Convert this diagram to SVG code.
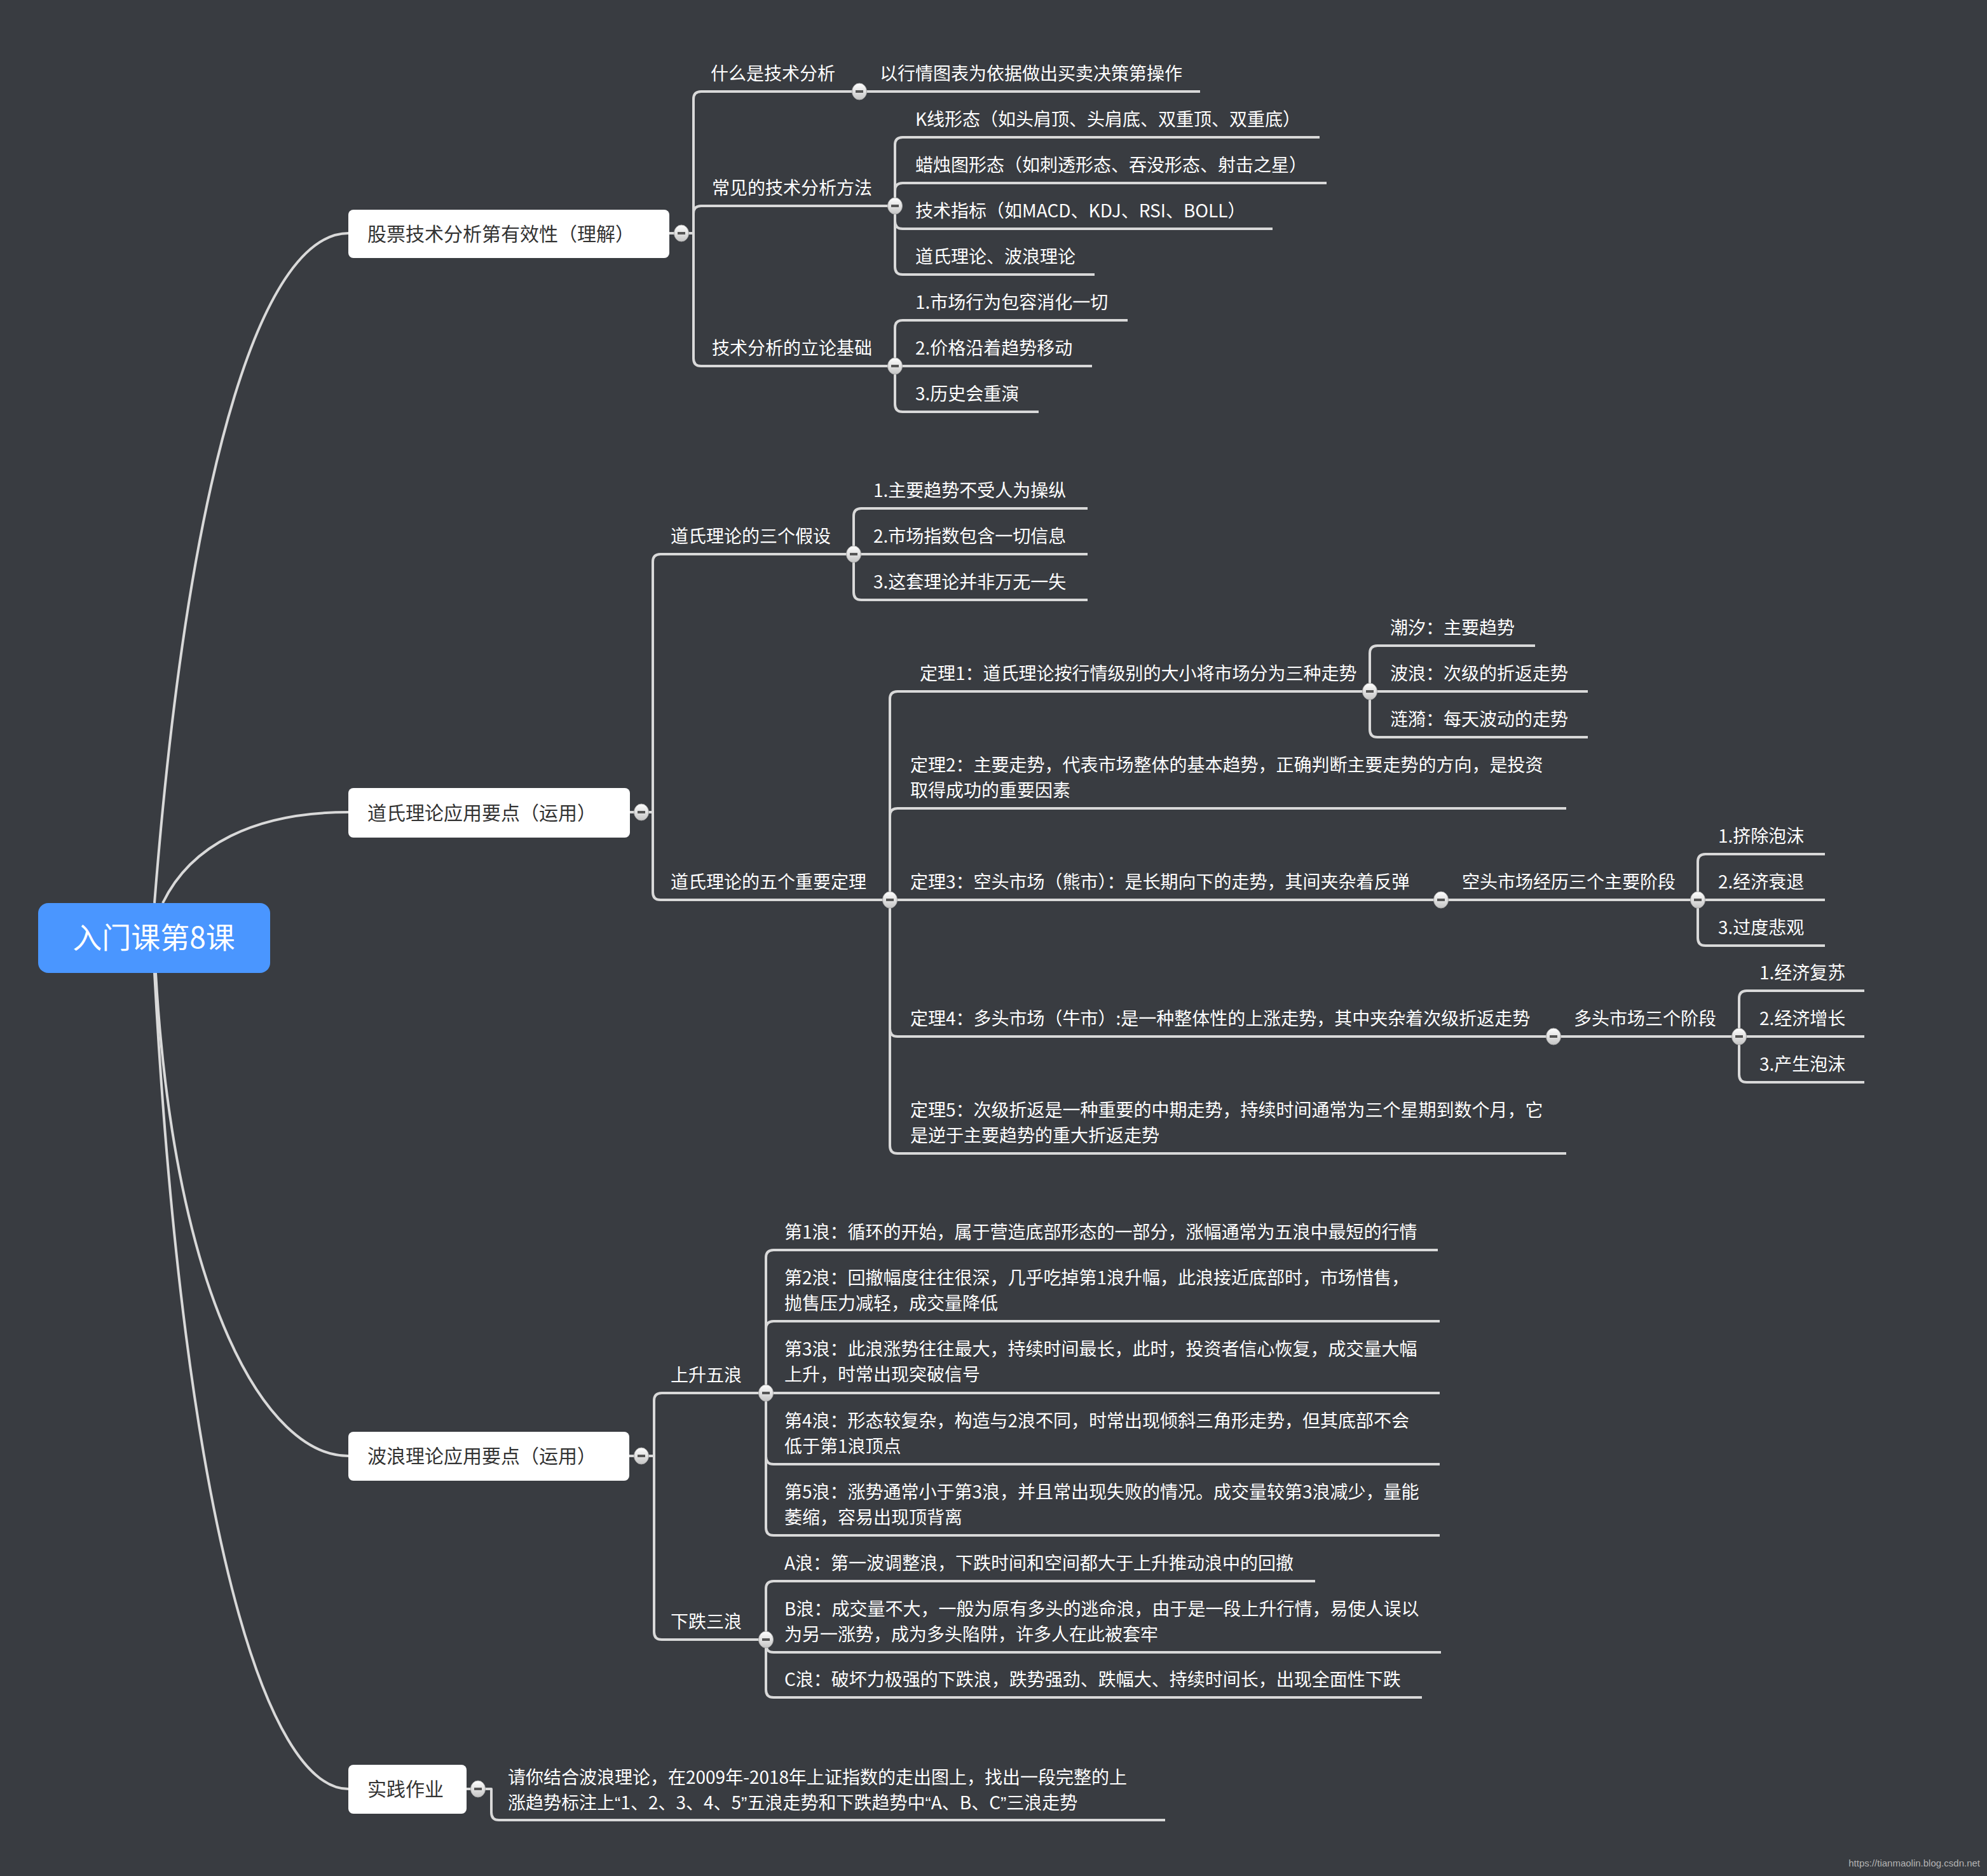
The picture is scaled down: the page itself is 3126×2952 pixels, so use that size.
<svg xmlns="http://www.w3.org/2000/svg" xmlns:xlink="http://www.w3.org/1999/xlink" width="3126" height="2952" viewBox="0 0 3126 2952">
<style>
.link{fill:none;stroke:#d9d9d9;stroke-width:4;stroke-linecap:butt;stroke-linejoin:round}
.root{fill:none;stroke:#d9d9d9;stroke-width:4}
text{font-family:"Noto Sans CJK SC","Noto Sans",sans-serif}
.sub{font-size:28px;fill:#ffffff}
.l1{font-size:30px;fill:#333333}
.l1box{fill:#ffffff}
.cen{font-size:46px;fill:#ffffff}
.q{font-family:"Liberation Sans",Arial,sans-serif}
.wm{font-family:"Liberation Sans",Arial,sans-serif;font-size:15px;fill:#b4b4b4}
</style>
<defs>
<linearGradient id="cg" x1="0" y1="0" x2="0" y2="1">
<stop offset="0" stop-color="#ffffff"/>
<stop offset="1" stop-color="#c4c4c4"/>
</linearGradient>
<g id="cb">
<ellipse cx="0" cy="0" rx="11.5" ry="13" fill="url(#cg)" stroke="#a8a8a8" stroke-width="1"/>
<rect x="-6" y="-2" width="12" height="4" fill="#555555"/>
</g>
</defs>
<rect width="3126" height="2952" fill="#393c41"/>

<g id="connectors">
<path class="root" d="M243 1421 C300 700 420 367 548 367"/>
<path class="root" d="M256 1421 C300 1330 400 1278 548 1278"/>
<path class="root" d="M245 1531 C275 2048 420 2291 548 2291"/>
<path class="root" d="M243 1531 C290 2404 420 2815 548 2815"/>

<path class="link" d="M1053 367 H1091"/>
<path class="link" d="M1091 367 V156 Q1091 144 1103 144 H1352"/>
<path class="link" d="M1091 367 V336 Q1091 324 1103 324 H1408"/>
<path class="link" d="M1091 367 V564 Q1091 576 1103 576 H1408"/>
<path class="link" d="M1352 144 H1888"/>
<path class="link" d="M1408 324 V228 Q1408 216 1420 216 H2076"/>
<path class="link" d="M1408 324 V300 Q1408 288 1420 288 H2087"/>
<path class="link" d="M1408 324 V348 Q1408 360 1420 360 H2002"/>
<path class="link" d="M1408 324 V420 Q1408 432 1420 432 H1722"/>
<path class="link" d="M1408 576 V516 Q1408 504 1420 504 H1774"/>
<path class="link" d="M1408 576 H1718"/>
<path class="link" d="M1408 576 V636 Q1408 648 1420 648 H1634"/>

<path class="link" d="M991 1278 H1027"/>
<path class="link" d="M1027 1278 V884 Q1027 872 1039 872 H1343"/>
<path class="link" d="M1027 1278 V1404 Q1027 1416 1039 1416 H1400"/>
<path class="link" d="M1343 872 V812 Q1343 800 1355 800 H1711"/>
<path class="link" d="M1343 872 H1711"/>
<path class="link" d="M1343 872 V932 Q1343 944 1355 944 H1711"/>
<path class="link" d="M1400 1416 V1100 Q1400 1088 1412 1088 H2155"/>
<path class="link" d="M1400 1416 V1284 Q1400 1272 1412 1272 H2464"/>
<path class="link" d="M1400 1416 H2267"/>
<path class="link" d="M1400 1416 V1619 Q1400 1631 1412 1631 H2444"/>
<path class="link" d="M1400 1416 V1803 Q1400 1815 1412 1815 H2464"/>
<path class="link" d="M2155 1088 V1028 Q2155 1016 2167 1016 H2415"/>
<path class="link" d="M2155 1088 H2498"/>
<path class="link" d="M2155 1088 V1148 Q2155 1160 2167 1160 H2498"/>
<path class="link" d="M2267 1416 H2671"/>
<path class="link" d="M2671 1416 V1356 Q2671 1344 2683 1344 H2871"/>
<path class="link" d="M2671 1416 H2871"/>
<path class="link" d="M2671 1416 V1476 Q2671 1488 2683 1488 H2871"/>
<path class="link" d="M2444 1631 H2736"/>
<path class="link" d="M2736 1631 V1571 Q2736 1559 2748 1559 H2933"/>
<path class="link" d="M2736 1631 H2933"/>
<path class="link" d="M2736 1631 V1691 Q2736 1703 2748 1703 H2933"/>

<path class="link" d="M990 2291 H1029"/>
<path class="link" d="M1029 2291 V2204 Q1029 2192 1041 2192 H1205"/>
<path class="link" d="M1029 2291 V2568 Q1029 2580 1041 2580 H1205"/>
<path class="link" d="M1205 2192 V1979 Q1205 1967 1217 1967 H2262"/>
<path class="link" d="M1205 2192 V2091 Q1205 2079 1217 2079 H2265"/>
<path class="link" d="M1205 2192 H2265"/>
<path class="link" d="M1205 2192 V2292 Q1205 2304 1217 2304 H2265"/>
<path class="link" d="M1205 2192 V2404 Q1205 2416 1217 2416 H2265"/>
<path class="link" d="M1205 2580 V2500 Q1205 2488 1217 2488 H2069"/>
<path class="link" d="M1205 2580 V2588 Q1205 2600 1217 2600 H2267"/>
<path class="link" d="M1205 2580 V2659 Q1205 2671 1217 2671 H2237"/>

<path class="link" d="M734 2815 H773 V2852 Q773 2864 785 2864 H1833"/>
</g>

<g id="root">
<rect x="60" y="1421" width="365" height="110" rx="16" fill="#4a96ff"/>
<text class="cen" x="242" y="1492" text-anchor="middle">入门课第8课</text>
</g>

<g id="n1">
<rect class="l1box" x="548" y="330" width="505" height="76" rx="8"/>
<text class="l1" x="578" y="379">股票技术分析第有效性（理解）</text>
</g>
<g id="n1-1"><text class="sub" x="1118" y="126">什么是技术分析</text></g>
<g id="n1-1-1"><text class="sub" x="1384" y="126">以行情图表为依据做出买卖决策第操作</text></g>
<g id="n1-2"><text class="sub" x="1120" y="306">常见的技术分析方法</text></g>
<g id="n1-2-1"><text class="sub" x="1440" y="198">K线形态（如头肩顶、头肩底、双重顶、双重底）</text></g>
<g id="n1-2-2"><text class="sub" x="1440" y="270">蜡烛图形态（如刺透形态、吞没形态、射击之星）</text></g>
<g id="n1-2-3"><text class="sub" x="1440" y="342">技术指标（如MACD、KDJ、RSI、BOLL）</text></g>
<g id="n1-2-4"><text class="sub" x="1440" y="414">道氏理论、波浪理论</text></g>
<g id="n1-3"><text class="sub" x="1120" y="558">技术分析的立论基础</text></g>
<g id="n1-3-1"><text class="sub" x="1440" y="486">1.市场行为包容消化一切</text></g>
<g id="n1-3-2"><text class="sub" x="1440" y="558">2.价格沿着趋势移动</text></g>
<g id="n1-3-3"><text class="sub" x="1440" y="630">3.历史会重演</text></g>

<g id="n2">
<rect class="l1box" x="548" y="1240" width="443" height="78" rx="8"/>
<text class="l1" x="578" y="1290">道氏理论应用要点（运用）</text>
</g>
<g id="n2-1"><text class="sub" x="1055" y="854">道氏理论的三个假设</text></g>
<g id="n2-1-1"><text class="sub" x="1374" y="782">1.主要趋势不受人为操纵</text></g>
<g id="n2-1-2"><text class="sub" x="1374" y="854">2.市场指数包含一切信息</text></g>
<g id="n2-1-3"><text class="sub" x="1374" y="926">3.这套理论并非万无一失</text></g>
<g id="n2-2"><text class="sub" x="1055" y="1398">道氏理论的五个重要定理</text></g>
<g id="n2-2-1"><text class="sub" x="1447" y="1070">定理1：道氏理论按行情级别的大小将市场分为三种走势</text></g>
<g id="n2-2-1-1"><text class="sub" x="2187" y="998">潮汐：主要趋势</text></g>
<g id="n2-2-1-2"><text class="sub" x="2187" y="1070">波浪：次级的折返走势</text></g>
<g id="n2-2-1-3"><text class="sub" x="2187" y="1142">涟漪：每天波动的走势</text></g>
<g id="n2-2-2"><text class="sub" x="1432" y="1214">定理2：主要走势，代表市场整体的基本趋势，正确判断主要走势的方向，是投资</text><text class="sub" x="1432" y="1254">取得成功的重要因素</text></g>
<g id="n2-2-3"><text class="sub" x="1432" y="1398">定理3：空头市场（熊市）：是长期向下的走势，其间夹杂着反弹</text></g>
<g id="n2-2-3-1"><text class="sub" x="2300" y="1398">空头市场经历三个主要阶段</text></g>
<g id="n2-2-3-1-1"><text class="sub" x="2703" y="1326">1.挤除泡沫</text></g>
<g id="n2-2-3-1-2"><text class="sub" x="2703" y="1398">2.经济衰退</text></g>
<g id="n2-2-3-1-3"><text class="sub" x="2703" y="1470">3.过度悲观</text></g>
<g id="n2-2-4"><text class="sub" x="1432" y="1613">定理4：多头市场（牛市）:是一种整体性的上涨走势，其中夹杂着次级折返走势</text></g>
<g id="n2-2-4-1"><text class="sub" x="2476" y="1613">多头市场三个阶段</text></g>
<g id="n2-2-4-1-1"><text class="sub" x="2768" y="1541">1.经济复苏</text></g>
<g id="n2-2-4-1-2"><text class="sub" x="2768" y="1613">2.经济增长</text></g>
<g id="n2-2-4-1-3"><text class="sub" x="2768" y="1685">3.产生泡沫</text></g>
<g id="n2-2-5"><text class="sub" x="1432" y="1757">定理5：次级折返是一种重要的中期走势，持续时间通常为三个星期到数个月，它</text><text class="sub" x="1432" y="1797">是逆于主要趋势的重大折返走势</text></g>

<g id="n3">
<rect class="l1box" x="548" y="2253" width="442" height="77" rx="8"/>
<text class="l1" x="578" y="2302">波浪理论应用要点（运用）</text>
</g>
<g id="n3-1"><text class="sub" x="1055" y="2174">上升五浪</text></g>
<g id="n3-1-1"><text class="sub" x="1234" y="1949">第1浪：循环的开始，属于营造底部形态的一部分，涨幅通常为五浪中最短的行情</text></g>
<g id="n3-1-2"><text class="sub" x="1234" y="2021">第2浪：回撤幅度往往很深，几乎吃掉第1浪升幅，此浪接近底部时，市场惜售，</text><text class="sub" x="1234" y="2061">抛售压力减轻，成交量降低</text></g>
<g id="n3-1-3"><text class="sub" x="1234" y="2133">第3浪：此浪涨势往往最大，持续时间最长，此时，投资者信心恢复，成交量大幅</text><text class="sub" x="1234" y="2173">上升，时常出现突破信号</text></g>
<g id="n3-1-4"><text class="sub" x="1234" y="2246">第4浪：形态较复杂，构造与2浪不同，时常出现倾斜三角形走势，但其底部不会</text><text class="sub" x="1234" y="2286">低于第1浪顶点</text></g>
<g id="n3-1-5"><text class="sub" x="1234" y="2358">第5浪：涨势通常小于第3浪，并且常出现失败的情况。成交量较第3浪减少，量能</text><text class="sub" x="1234" y="2398">萎缩，容易出现顶背离</text></g>
<g id="n3-2"><text class="sub" x="1055" y="2562">下跌三浪</text></g>
<g id="n3-2-1"><text class="sub" x="1234" y="2470">A浪：第一波调整浪，下跌时间和空间都大于上升推动浪中的回撤</text></g>
<g id="n3-2-2"><text class="sub" x="1234" y="2542">B浪：成交量不大，一般为原有多头的逃命浪，由于是一段上升行情，易使人误以</text><text class="sub" x="1234" y="2582">为另一涨势，成为多头陷阱，许多人在此被套牢</text></g>
<g id="n3-2-3"><text class="sub" x="1234" y="2653">C浪：破坏力极强的下跌浪，跌势强劲、跌幅大、持续时间长，出现全面性下跌</text></g>

<g id="n4">
<rect class="l1box" x="548" y="2777" width="186" height="77" rx="8"/>
<text class="l1" x="578" y="2826">实践作业</text>
</g>
<g id="n4-1"><text class="sub" x="799" y="2807">请你结合波浪理论，在2009年-2018年上证指数的走出图上，找出一段完整的上</text><text class="sub" x="799" y="2847">涨趋势标注上<tspan class="q">“</tspan>1、2、3、4、5<tspan class="q">”</tspan>五浪走势和下跌趋势中<tspan class="q">“</tspan>A、B、C<tspan class="q">”</tspan>三浪走势</text></g>

<g id="collapse">
<use xlink:href="#cb" x="1072" y="367"/>
<use xlink:href="#cb" x="1352" y="144"/>
<use xlink:href="#cb" x="1408" y="324"/>
<use xlink:href="#cb" x="1408" y="576"/>
<use xlink:href="#cb" x="1009" y="1278"/>
<use xlink:href="#cb" x="1343" y="872"/>
<use xlink:href="#cb" x="1400" y="1416"/>
<use xlink:href="#cb" x="2155" y="1088"/>
<use xlink:href="#cb" x="2267" y="1416"/>
<use xlink:href="#cb" x="2671" y="1416"/>
<use xlink:href="#cb" x="2444" y="1631"/>
<use xlink:href="#cb" x="2736" y="1631"/>
<use xlink:href="#cb" x="1009" y="2291"/>
<use xlink:href="#cb" x="1205" y="2192"/>
<use xlink:href="#cb" x="1205" y="2580"/>
<use xlink:href="#cb" x="752" y="2815"/>
</g>

<text class="wm" x="3115" y="2937" text-anchor="end">https://tianmaolin.blog.csdn.net</text>
</svg>
